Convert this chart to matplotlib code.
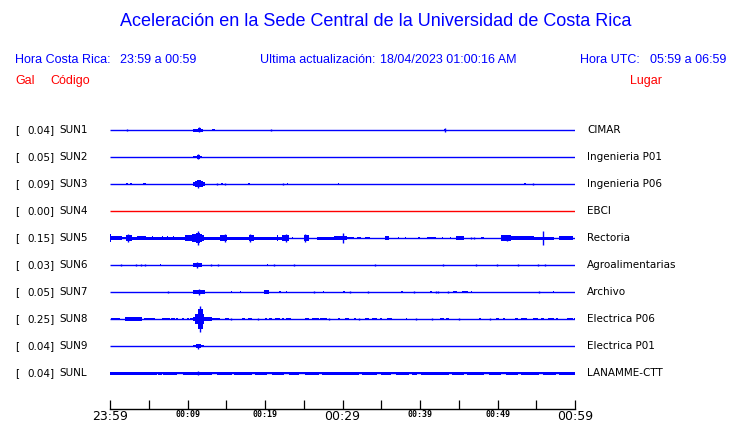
import matplotlib
matplotlib.use('Agg')
import matplotlib.pyplot as plt

W, H = 740, 423

# station data: peak acceleration (Gal), code, place
peaks = ["0.04", "0.05", "0.09", "0.00", "0.15", "0.03", "0.05", "0.25", "0.04", "0.04"]
codes = ["SUN1", "SUN2", "SUN3", "SUN4", "SUN5", "SUN6", "SUN7", "SUN8", "SUN9", "SUNL"]
places = ["CIMAR", "Ingenieria P01", "Ingenieria P06", "EBCI", "Rectoria",
          "Agroalimentarias", "Archivo", "Electrica P06", "Electrica P01", "LANAMME-CTT"]
trace_colors = ["blue", "blue", "blue", "red", "blue", "blue", "blue", "blue", "blue", "blue"]

# envelope segments: (start min, end min, half amplitude)
sun1 = [(2.24, 2.24, 1.3), (10.7, 12.0, 1.5), (11.3, 11.7, 2.0), (11.5, 11.5, 2.5),
        (13.1, 13.6, 1.2), (20.8, 20.8, 1.0), (43.1, 43.3, 1.0), (43.2, 43.2, 1.7)]
sun2 = [(10.7, 11.9, 1.2), (11.2, 11.6, 1.8), (11.4, 11.4, 2.5)]
sun3 = [(2.0, 2.3, 1.4), (2.6, 2.9, 1.4), (4.3, 4.6, 1.4), (10.7, 12.3, 1.8),
        (11.0, 12.0, 2.7), (11.2, 11.7, 3.5), (11.4, 11.4, 4.3), (13.75, 13.75, 1.0),
        (14.35, 14.6, 1.4), (14.9, 14.9, 1.0), (17.8, 18.1, 1.4), (22.3, 22.3, 1.0),
        (22.8, 23.0, 1.4), (29.4, 29.6, 1.4), (53.4, 53.7, 1.4), (54.6, 54.6, 1.0)]
sun4 = []
sun5 = [(0.0, 0.13, 4.3), (0.0, 1.51, 1.8), (1.51, 2.03, 1.3), (2.03, 2.8, 2.7),
        (2.37, 2.37, 4.0), (2.8, 3.45, 1.5), (3.45, 4.61, 2.0), (4.61, 9.7, 1.5),
        (5.39, 5.5, 2.0), (6.68, 6.8, 2.0), (7.33, 7.45, 2.0), (8.19, 8.3, 2.0),
        (9.7, 12.07, 2.7), (10.6, 11.9, 4.0), (11.1, 11.6, 5.3), (11.34, 11.34, 6.7),
        (12.07, 14.22, 1.5), (14.22, 15.09, 2.7), (14.87, 14.87, 4.0), (15.09, 17.89, 1.5),
        (17.89, 18.53, 2.7), (18.1, 18.1, 4.0), (18.53, 22.2, 1.5), (21.55, 21.65, 2.7),
        (22.2, 23.06, 2.7), (22.76, 22.76, 4.0), (23.5, 23.6, 1.4), (24.2, 24.3, 1.4),
        (25.0, 25.73, 2.7), (25.22, 25.22, 4.0), (26.72, 28.88, 1.5), (28.88, 30.6, 2.0),
        (30.09, 30.09, 5.3), (30.6, 31.5, 1.4), (31.9, 32.4, 1.4), (32.9, 33.5, 1.4),
        (35.47, 35.99, 2.3), (37.2, 37.35, 1.4), (38.1, 38.2, 1.4), (39.8, 40.0, 1.4),
        (40.95, 42.03, 1.4), (42.85, 42.95, 1.0), (43.9, 44.0, 1.0), (44.61, 45.69, 1.7),
        (46.55, 46.55, 1.0), (46.98, 46.98, 1.0), (47.84, 48.28, 1.4), (50.43, 51.72, 2.7),
        (51.29, 51.29, 3.3), (51.72, 53.88, 1.8), (53.88, 54.74, 2.3), (54.74, 55.82, 1.5),
        (55.91, 55.91, 6.7), (56.03, 57.33, 1.5), (57.97, 59.7, 1.8)]
sun6 = [(1.42, 1.42, 1.0), (3.36, 3.36, 1.0), (4.01, 4.01, 1.0), (4.57, 4.57, 1.0),
        (6.4, 6.6, 1.4), (10.69, 11.85, 1.8), (11.25, 11.25, 2.7), (12.97, 12.97, 1.0),
        (13.88, 13.88, 1.0), (20.2, 20.35, 1.4), (21.12, 21.12, 1.0), (23.71, 23.71, 1.0),
        (34.18, 34.18, 1.0), (42.97, 42.97, 1.0), (47.24, 47.24, 1.0), (49.96, 49.96, 1.0),
        (52.67, 52.67, 1.0), (55.17, 55.17, 1.0), (56.16, 56.16, 1.0)]
sun7 = [(6.0, 6.1, 1.4), (7.46, 7.46, 1.0), (10.69, 12.28, 1.8), (11.0, 11.9, 2.3),
        (11.47, 11.47, 2.7), (15.55, 15.75, 1.4), (16.75, 16.9, 1.4), (19.91, 20.56, 1.7),
        (21.85, 22.05, 1.4), (22.7, 22.85, 1.4), (26.29, 26.29, 1.0), (27.45, 27.6, 1.4),
        (30.1, 30.3, 1.4), (30.95, 30.95, 1.0), (33.32, 33.32, 1.0), (37.5, 37.8, 1.4),
        (39.27, 39.27, 1.0), (41.25, 41.5, 1.4), (42.07, 42.07, 1.0), (42.33, 42.33, 1.0),
        (43.58, 43.58, 0.7), (44.31, 44.74, 1.4), (45.39, 46.16, 1.4), (46.6, 46.75, 1.4),
        (55.34, 55.34, 1.0), (57.1, 57.3, 1.4)]
sun8 = [(0.13, 1.29, 1.4), (1.94, 4.09, 1.7), (4.44, 5.82, 1.4), (6.68, 7.76, 1.4),
        (7.89, 8.41, 1.4), (8.49, 8.75, 1.4), (9.27, 9.61, 1.4), (9.91, 10.13, 1.4),
        (10.34, 10.65, 1.4), (10.69, 13.15, 1.8), (10.99, 12.07, 5.0), (11.34, 11.94, 10.0),
        (11.64, 11.64, 12.7), (13.15, 14.22, 1.4), (14.87, 15.3, 1.4), (15.65, 15.65, 1.3),
        (17.03, 17.37, 1.4), (17.8, 18.32, 1.4), (19.09, 19.09, 1.3), (19.96, 20.26, 1.4),
        (20.47, 20.91, 1.4), (21.34, 21.98, 1.4), (22.2, 22.41, 1.4), (22.72, 23.41, 1.4),
        (25.22, 25.65, 1.4), (26.08, 26.94, 1.4), (27.16, 28.02, 1.4), (28.32, 28.32, 1.3),
        (29.4, 29.74, 1.4), (30.3, 30.82, 1.4), (31.47, 31.77, 1.4), (32.11, 32.11, 1.3),
        (32.89, 33.41, 1.4), (33.84, 34.48, 1.4), (34.78, 35.04, 1.4), (35.78, 36.42, 1.4),
        (38.15, 38.36, 1.4), (39.44, 39.44, 1.3), (41.59, 41.59, 1.3), (42.54, 43.1, 1.4),
        (43.32, 43.75, 1.4), (45.04, 45.04, 1.3), (47.63, 47.84, 1.4), (49.01, 49.01, 1.3),
        (49.78, 50.22, 1.4), (50.73, 50.99, 1.4), (52.28, 52.59, 1.4), (53.02, 53.75, 1.4),
        (54.53, 55.17, 1.4), (55.6, 56.03, 1.4), (56.47, 57.33, 1.4), (57.54, 57.76, 1.4),
        (58.92, 59.7, 1.4), (59.91, 60.0, 1.4)]
sun9 = [(10.69, 12.16, 1.4), (11.1, 11.7, 2.0), (11.4, 11.4, 2.5)]
sunl = [(0.0, 60.0, 1.0), (0.0, 6.03, 1.5), (6.25, 6.68, 1.5), (6.9, 8.62, 1.5),
        (9.48, 13.15, 1.5), (11.4, 11.4, 2.3), (13.79, 15.73, 1.5), (15.95, 18.32, 1.5),
        (18.75, 20.26, 1.5), (20.91, 22.41, 1.5), (23.06, 24.35, 1.5), (25.22, 26.94, 1.5),
        (27.37, 32.11, 1.5), (32.54, 34.48, 1.5), (34.91, 36.21, 1.5), (36.85, 38.58, 1.5),
        (39.01, 39.66, 1.5), (40.09, 43.75, 1.5), (44.18, 45.69, 1.5), (46.12, 48.28, 1.5),
        (48.92, 50.43, 1.5), (51.08, 52.59, 1.5), (53.02, 55.39, 1.5), (55.82, 57.54, 1.5),
        (57.97, 60.0, 1.5)]
traces = [sun1, sun2, sun3, sun4, sun5, sun6, sun7, sun8, sun9, sunl]

tick_minutes = list(range(0, 61, 5))
tick_labels = ["23:59", "", "00:09", "", "00:19", "", "00:29", "", "00:39", "", "00:49", "", "00:59"]
big_labels = ["23:59", "00:29", "00:59"]

BLUE = "#0000ff"
RED = "#ff0000"


def fx(x):
    return x / W


def fy(y):
    return 1 - y / H


fig = plt.figure(figsize=(W / 100, H / 100), dpi=100)
fig.patch.set_facecolor("white")

# header
fig.text(fx(376), fy(22), "Aceleración en la Sede Central de la Universidad de Costa Rica",
         ha="center", va="center", color=BLUE, fontsize=13, family="Liberation Sans")
hdr = dict(va="center", color=BLUE, fontsize=9, family="Liberation Sans")
fig.text(fx(15), fy(60), "Hora Costa Rica:", **hdr)
fig.text(fx(120), fy(60), "23:59 a 00:59", **hdr)
fig.text(fx(260), fy(60), "Ultima actualización:", **hdr)
fig.text(fx(380), fy(60), "18/04/2023 01:00:16 AM", **hdr)
fig.text(fx(580), fy(60), "Hora UTC:", **hdr)
fig.text(fx(650), fy(60), "05:59 a 06:59", **hdr)
hdr["color"] = RED
fig.text(fx(15), fy(81), "Gal", **hdr)
fig.text(fx(50), fy(81), "Código", **hdr)
fig.text(fx(630), fy(81), "Lugar", **hdr)

# traces
ax = fig.add_axes([fx(110), fy(409), fx(575) - fx(110), (409 - 110) / H])
ax.set_xlim(0, 60)
ax.set_ylim(409, 110)

lab = dict(va="center", color="black", fontsize=7.5, family="DejaVu Sans")
for k, segs in enumerate(traces):
    y = 130 + 27 * k
    c = trace_colors[k]
    ax.hlines(y, 0, 60, color=c, lw=1.0)
    for t0, t1, a in segs:
        if t1 - t0 < 0.05:
            ax.vlines(t0, y - a, y + a, color=c, lw=1.0)
        else:
            ax.bar(t0, 2 * a, width=t1 - t0, bottom=y - a, align="edge", color=c, linewidth=0)
    fig.text(fx(15), fy(y), "[", **lab)
    fig.text(fx(27), fy(y), peaks[k] + "]", **lab)
    fig.text(fx(59), fy(y), codes[k], **lab)
    fig.text(fx(587), fy(y), places[k], **lab)

for s in ["top", "left", "right"]:
    ax.spines[s].set_visible(False)
ax.spines["bottom"].set_linewidth(1.0)
ax.set_yticks([])
ax.set_xticks(tick_minutes)
ax.set_xticklabels(tick_labels)
ax.tick_params(axis="x", direction="in", length=6.5, width=0.9, pad=1)
for t in ax.get_xticklabels():
    if t.get_text() in big_labels:
        t.set_fontsize(9)
        t.set_family("DejaVu Sans")
    else:
        t.set_fontsize(6)
        t.set_family("DejaVu Sans Mono")
        t.set_fontweight("bold")

fig.savefig("out.png", dpi=100)
